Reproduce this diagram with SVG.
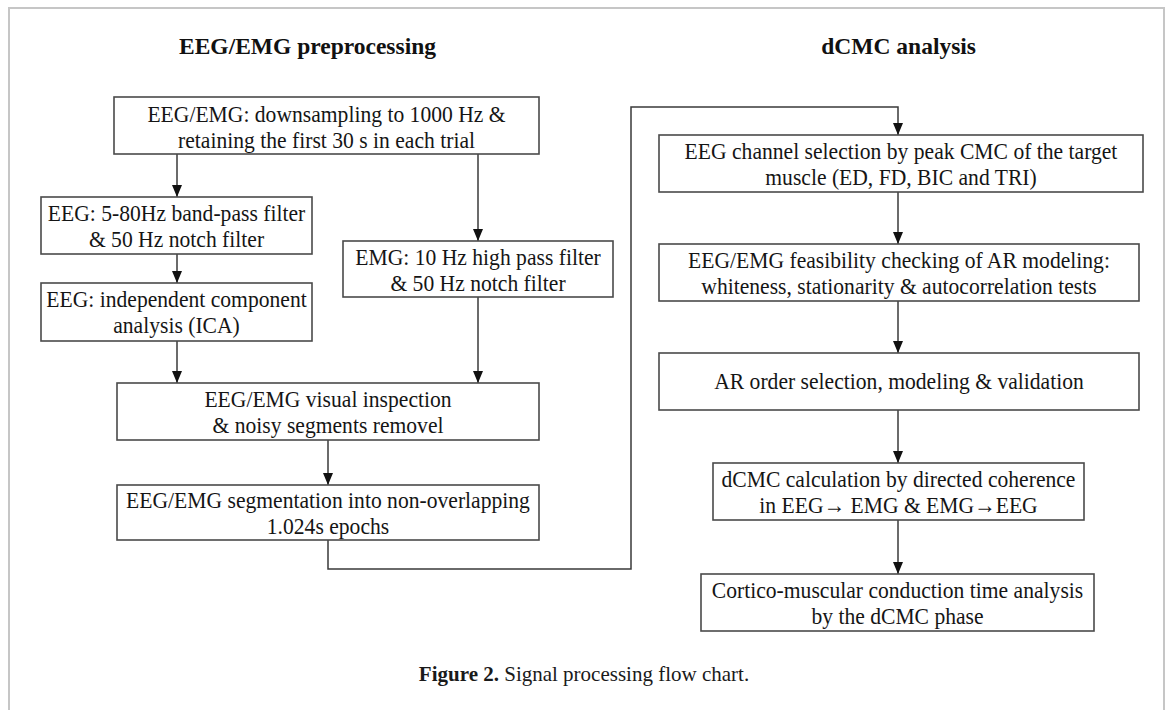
<svg xmlns="http://www.w3.org/2000/svg" width="1168" height="710" viewBox="0 0 1168 710">
  <style>
    .frame { fill: none; stroke: #c6c6c6; stroke-width: 2; }
    .box rect { fill: #ffffff; stroke: #4a4a4a; stroke-width: 1.6; }
    .box text { font-family: "Liberation Serif", "Times New Roman", serif; font-size: 23.5px; fill: #151515; text-anchor: middle; }
    .head { font-family: "Liberation Serif", "Times New Roman", serif; font-size: 23.5px; font-weight: bold; fill: #111; }
    .caption { font-family: "Liberation Serif", "Times New Roman", serif; font-size: 21px; fill: #1a1a1a; text-anchor: middle; }
    .conn path { fill: none; stroke: #3a3a3a; stroke-width: 1.5; }
  </style>
  <defs>
    <marker id="arrow" viewBox="0 0 12 10" markerWidth="12" markerHeight="10" refX="12" refY="5" orient="auto" markerUnits="userSpaceOnUse">
      <path d="M0,0 L12,5 L0,10 z" fill="#111"/>
    </marker>
  </defs>

  <rect width="1168" height="710" fill="#ffffff"/>
  <!-- page frame, open at the bottom -->
  <path class="frame" d="M9,710 V8 H1164 V710"/>

  <!-- column headings -->
  <text class="head" x="179" y="54">EEG/EMG preprocessing</text>
  <text class="head" x="976" y="54" text-anchor="end" font-size="22.5">dCMC analysis</text>

  <!-- connectors -->
  <g id="connectors" class="conn">
    <path d="M177,154 V197" marker-end="url(#arrow)"/>
    <path d="M478,154 V241" marker-end="url(#arrow)"/>
    <path d="M177,254 V283" marker-end="url(#arrow)"/>
    <path d="M177,341 V383" marker-end="url(#arrow)"/>
    <path d="M478,297 V383" marker-end="url(#arrow)"/>
    <path d="M328,440 V485" marker-end="url(#arrow)"/>
    <path d="M328,540 V569 H631 V107 H898 V135" marker-end="url(#arrow)"/>
    <path d="M898,192 V244" marker-end="url(#arrow)"/>
    <path d="M898,301 V353" marker-end="url(#arrow)"/>
    <path d="M898,410 V463" marker-end="url(#arrow)"/>
    <path d="M898,520 V574" marker-end="url(#arrow)"/>
  </g>

  <!-- preprocessing column (box labels use a slightly narrowed serif face) -->
  <g id="downsample" class="box">
    <rect x="114" y="97" width="425" height="57"/>
    <text transform="translate(326.5,122) scale(0.92,1)">EEG/EMG: downsampling to 1000 Hz &amp;</text>
    <text transform="translate(326.5,148) scale(0.92,1)">retaining the first 30 s in each trial</text>
  </g>
  <g id="eeg-bandpass" class="box">
    <rect x="41" y="197" width="271" height="57"/>
    <text transform="translate(176.5,221) scale(0.92,1)">EEG: 5-80Hz band-pass filter</text>
    <text transform="translate(176.5,247) scale(0.92,1)">&amp; 50 Hz notch filter</text>
  </g>
  <g id="eeg-ica" class="box">
    <rect x="41" y="283" width="271" height="58"/>
    <text transform="translate(176.5,307) scale(0.92,1)">EEG: independent component</text>
    <text transform="translate(176.5,333) scale(0.92,1)">analysis (ICA)</text>
  </g>
  <g id="emg-highpass" class="box">
    <rect x="343" y="241" width="270" height="56"/>
    <text transform="translate(478,265) scale(0.92,1)">EMG: 10 Hz high pass filter</text>
    <text transform="translate(478,291) scale(0.92,1)">&amp; 50 Hz notch filter</text>
  </g>
  <g id="inspection" class="box">
    <rect x="117" y="383" width="422" height="57"/>
    <text transform="translate(328,407) scale(0.92,1)">EEG/EMG visual inspection</text>
    <text transform="translate(328,433) scale(0.92,1)">&amp; noisy segments removel</text>
  </g>
  <g id="segmentation" class="box">
    <rect x="117" y="485" width="422" height="55"/>
    <text transform="translate(328,508) scale(0.92,1)">EEG/EMG segmentation into non-overlapping</text>
    <text transform="translate(328,534) scale(0.92,1)">1.024s epochs</text>
  </g>

  <!-- dCMC column -->
  <g id="channel-selection" class="box">
    <rect x="659" y="135" width="484" height="57"/>
    <text transform="translate(901,159) scale(0.92,1)">EEG channel selection by peak CMC of the target</text>
    <text transform="translate(901,185) scale(0.92,1)">muscle (ED, FD, BIC and TRI)</text>
  </g>
  <g id="feasibility" class="box">
    <rect x="659" y="244" width="480" height="57"/>
    <text transform="translate(899,268) scale(0.92,1)">EEG/EMG feasibility checking of AR modeling:</text>
    <text transform="translate(899,294) scale(0.92,1)">whiteness, stationarity &amp; autocorrelation tests</text>
  </g>
  <g id="ar-order" class="box">
    <rect x="659" y="353" width="480" height="57"/>
    <text transform="translate(899,389) scale(0.92,1)">AR order selection, modeling &amp; validation</text>
  </g>
  <g id="dcmc-calc" class="box">
    <rect x="713" y="463" width="371" height="57"/>
    <text transform="translate(898.5,487) scale(0.92,1)">dCMC calculation by directed coherence</text>
    <text transform="translate(898.5,513) scale(0.92,1)">in EEG→ EMG &amp; EMG→EEG</text>
  </g>
  <g id="conduction-time" class="box">
    <rect x="701" y="574" width="393" height="57"/>
    <text transform="translate(897.5,598) scale(0.92,1)">Cortico-muscular conduction time analysis</text>
    <text transform="translate(897.5,624) scale(0.92,1)">by the dCMC phase</text>
  </g>

  <text class="caption" x="584" y="681"><tspan font-weight="bold">Figure 2.</tspan> Signal processing flow chart.</text>
</svg>
